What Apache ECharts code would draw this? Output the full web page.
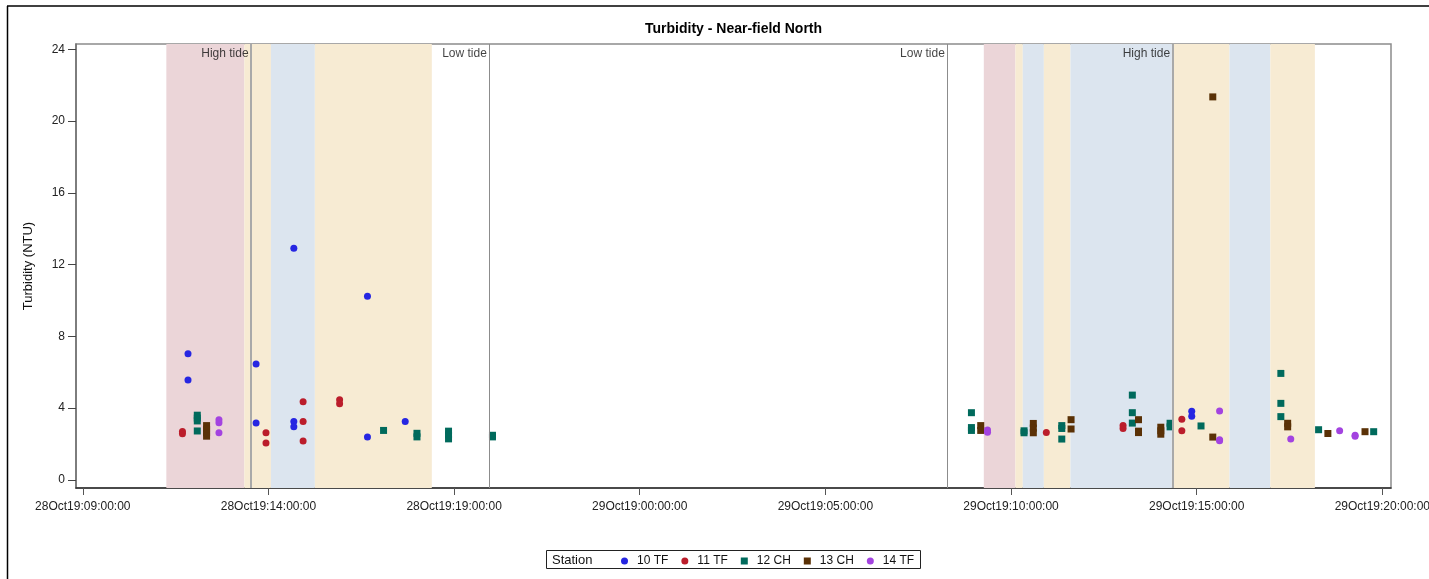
<!DOCTYPE html>
<html>
<head>
<meta charset="utf-8">
<title>Turbidity - Near-field North</title>
<script src="https://cdn.jsdelivr.net/npm/echarts@6/dist/echarts.min.js"></script>
<style>
  html, body { margin: 0; padding: 0; background: #fff; }
  #chart { width: 1429px; height: 579px; }
</style>
</head>
<body>
<div id="chart"></div>
<script>
// Station names and measurements: [sample time, turbidity in NTU]
const stationNames = ['10 TF', '11 TF', '12 CH', '13 CH', '14 TF'];

const st10TF = [
  ['2019-10-28 11:50', 7.03], ['2019-10-28 11:50', 5.56],
  ['2019-10-28 13:40', 6.45], ['2019-10-28 13:40', 3.16],
  ['2019-10-28 14:41', 12.91], ['2019-10-28 14:41', 3.25], ['2019-10-28 14:41', 2.96],
  ['2019-10-28 16:40', 10.23], ['2019-10-28 16:40', 2.38],
  ['2019-10-28 17:41', 3.25],
  ['2019-10-29 14:52', 3.82], ['2019-10-29 14:52', 3.54]
];
const st11TF = [
  ['2019-10-28 11:41', 2.69], ['2019-10-28 11:41', 2.56],
  ['2019-10-28 13:56', 2.62], ['2019-10-28 13:56', 2.05],
  ['2019-10-28 14:56', 4.35], ['2019-10-28 14:56', 3.25], ['2019-10-28 14:56', 2.16],
  ['2019-10-28 15:55', 4.46], ['2019-10-28 15:55', 4.24],
  ['2019-10-29 10:57', 2.64],
  ['2019-10-29 13:01', 3.02], ['2019-10-29 13:01', 2.86],
  ['2019-10-29 14:36', 3.37], ['2019-10-29 14:36', 2.73]
];
const st12CH = [
  ['2019-10-28 12:05', 3.60], ['2019-10-28 12:05', 3.44], ['2019-10-28 12:05', 3.28], ['2019-10-28 12:05', 2.72],
  ['2019-10-28 17:06', 2.75],
  ['2019-10-28 18:00', 2.59], ['2019-10-28 18:00', 2.39],
  ['2019-10-28 18:51', 2.71], ['2019-10-28 18:51', 2.50], ['2019-10-28 18:51', 2.28],
  ['2019-10-28 20:02', 2.48], ['2019-10-28 20:02', 2.39],
  ['2019-10-29 08:56', 3.74], ['2019-10-29 08:56', 2.91], ['2019-10-29 08:56', 2.75],
  ['2019-10-29 10:21', 2.73], ['2019-10-29 10:21', 2.62],
  ['2019-10-29 11:22', 3.02], ['2019-10-29 11:22', 2.86], ['2019-10-29 11:22', 2.27],
  ['2019-10-29 13:16', 4.72], ['2019-10-29 13:16', 3.74], ['2019-10-29 13:16', 3.16],
  ['2019-10-29 14:17', 3.15], ['2019-10-29 14:17', 2.95],
  ['2019-10-29 15:07', 3.00],
  ['2019-10-29 17:16', 5.93], ['2019-10-29 17:16', 4.26], ['2019-10-29 17:16', 3.52],
  ['2019-10-29 18:17', 2.79],
  ['2019-10-29 19:46', 2.68]
];
const st13CH = [
  ['2019-10-28 12:20', 3.02], ['2019-10-28 12:20', 2.82], ['2019-10-28 12:20', 2.62], ['2019-10-28 12:20', 2.43],
  ['2019-10-29 09:11', 3.02], ['2019-10-29 09:11', 2.75],
  ['2019-10-29 10:36', 3.14], ['2019-10-29 10:36', 2.88], ['2019-10-29 10:36', 2.62],
  ['2019-10-29 11:37', 3.35], ['2019-10-29 11:37', 2.83],
  ['2019-10-29 13:26', 3.35], ['2019-10-29 13:26', 2.71], ['2019-10-29 13:26', 2.63],
  ['2019-10-29 14:02', 2.93], ['2019-10-29 14:02', 2.73], ['2019-10-29 14:02', 2.54],
  ['2019-10-29 15:26', 21.35], ['2019-10-29 15:26', 2.38],
  ['2019-10-29 17:27', 3.15], ['2019-10-29 17:27', 2.95],
  ['2019-10-29 18:32', 2.58],
  ['2019-10-29 19:32', 2.68]
];
const st14TF = [
  ['2019-10-28 12:40', 3.35], ['2019-10-28 12:40', 3.18], ['2019-10-28 12:40', 2.62],
  ['2019-10-29 09:22', 2.78], ['2019-10-29 09:22', 2.65],
  ['2019-10-29 15:37', 3.83], ['2019-10-29 15:37', 2.23], ['2019-10-29 15:37', 2.18],
  ['2019-10-29 17:32', 2.27],
  ['2019-10-29 18:51', 2.73],
  ['2019-10-29 19:16', 2.48], ['2019-10-29 19:16', 2.43]
];

// Tidal phase periods shaded behind the points: [start, end, phase]
const tidePhases = [
  ['2019-10-28 11:15', '2019-10-28 13:21', 'flood'],
  ['2019-10-28 13:21', '2019-10-28 14:04', 'slack'],
  ['2019-10-28 14:04', '2019-10-28 15:15', 'ebb'],
  ['2019-10-28 15:15', '2019-10-28 18:24', 'slack'],
  ['2019-10-29 09:16', '2019-10-29 10:07', 'flood'],
  ['2019-10-29 10:07', '2019-10-29 10:19', 'slack'],
  ['2019-10-29 10:19', '2019-10-29 10:53', 'ebb'],
  ['2019-10-29 10:53', '2019-10-29 11:36', 'slack'],
  ['2019-10-29 11:36', '2019-10-29 14:20', 'ebb'],
  ['2019-10-29 14:20', '2019-10-29 15:53', 'slack'],
  ['2019-10-29 15:53', '2019-10-29 16:59', 'ebb'],
  ['2019-10-29 16:59', '2019-10-29 18:11', 'slack']
];

// High / low tide reference times
const tideEvents = [
  ['2019-10-28 13:32', 'High tide'],
  ['2019-10-28 19:57', 'Low tide'],
  ['2019-10-29 08:17', 'Low tide'],
  ['2019-10-29 14:21', 'High tide']
];

// Axis settings
const xTicks = [
  '2019-10-28 09:00', '2019-10-28 14:00', '2019-10-28 19:00', '2019-10-29 00:00',
  '2019-10-29 05:00', '2019-10-29 10:00', '2019-10-29 15:00', '2019-10-29 20:00'
];
const xRange = ['2019-10-28 08:49', '2019-10-29 20:14'];
const yTicks = [0, 4, 8, 12, 16, 20, 24];
const yRange = [-0.46, 24.3];

const toMs = s => new Date(s.replace(' ', 'T') + ':00').getTime();
const MONTHS = ['Jan','Feb','Mar','Apr','May','Jun','Jul','Aug','Sep','Oct','Nov','Dec'];
const pad = n => String(n).padStart(2, '0');
function sasDateTime(ms) {
  const d = new Date(ms);
  return pad(d.getDate()) + MONTHS[d.getMonth()] + pad(d.getFullYear() % 100) + ':' +
    pad(d.getHours()) + ':' + pad(d.getMinutes()) + ':' + pad(d.getSeconds());
}

const phaseColors = { flood: '#ebd5d8', slack: '#f7ebd3', ebb: '#dce5ef' };
const SQUARE = 'path://M0,0L10,0L10,10L0,10Z';
const stationStyles = {
  '10 TF': { color: '#2626e2', symbol: 'circle' },
  '11 TF': { color: '#bb1d2b', symbol: 'circle' },
  '12 CH': { color: '#006a5c', symbol: SQUARE },
  '13 CH': { color: '#5a3106', symbol: SQUARE },
  '14 TF': { color: '#a343e0', symbol: 'circle' }
};
const stationData = [st10TF, st11TF, st12CH, st13CH, st14TF];

const FONT = '"Liberation Sans", Arial, sans-serif';

const backgroundSeries = {
  name: 'tide',
  type: 'scatter',
  data: [],
  z: 1,
  silent: true,
  markArea: {
    silent: true,
    label: { show: false },
    data: tidePhases.map(p => [
      { xAxis: toMs(p[0]), itemStyle: { color: phaseColors[p[2]], opacity: 1 } },
      { xAxis: toMs(p[1]) }
    ])
  },
  markLine: {
    silent: true,
    symbol: ['none', 'none'],
    label: { show: false },
    data: tideEvents.map(e => ({
      xAxis: toMs(e[0]),
      lineStyle: e[1] === 'High tide'
        ? { color: '#a9a9a9', width: 2, type: 'solid' }
        : { color: '#8c8c8c', width: 1, type: 'solid' }
    }))
  }
};

const tideLabelSeries = {
  name: 'tideLabels',
  type: 'scatter',
  z: 2,
  silent: true,
  symbolSize: 1,
  itemStyle: { color: 'rgba(0,0,0,0)' },
  data: tideEvents.map(e => ({ name: e[1], value: [toMs(e[0]), 23.77] })),
  label: {
    show: true,
    position: 'left',
    distance: 2,
    formatter: p => p.name,
    color: '#111',
    fontSize: 12,
    fontFamily: FONT
  }
};

const pointSeries = stationNames.map((name, i) => ({
  name: name,
  type: 'scatter',
  z: 3,
  symbol: stationStyles[name].symbol,
  symbolSize: 7,
  itemStyle: { color: stationStyles[name].color, opacity: 1 },
  data: stationData[i].map(d => [toMs(d[0]), d[1]])
}));

const chart = echarts.init(document.getElementById('chart'), null, { renderer: 'canvas' });
chart.setOption({
  animation: false,
  backgroundColor: '#fff',
  title: {
    text: 'Turbidity - Near-field North',
    left: 640,
    top: 17,
    textStyle: { fontSize: 14, fontWeight: 'bold', color: '#000', fontFamily: FONT }
  },
  grid: {
    left: 76, right: 38, top: 44, bottom: 91,
    outerBoundsMode: 'none',
    containLabel: false,
    show: true,
    borderColor: '#8c8c8c',
    borderWidth: 1.5,
    backgroundColor: 'transparent'
  },
  legend: {
    data: stationNames.map(n => ({ name: n, icon: stationStyles[n].symbol })),
    left: 621,
    top: 555,
    padding: 0,
    itemWidth: 7,
    itemHeight: 7,
    itemGap: 13,
    symbolKeepAspect: true,
    textStyle: { fontSize: 12, color: '#111', fontFamily: FONT, padding: [0, 0, 0, 4] },
    selectedMode: false
  },
  xAxis: {
    // sample times in epoch milliseconds
    type: 'value',
    min: toMs(xRange[0]),
    max: toMs(xRange[1]),
    splitLine: { show: false },
    axisLine: { show: true, onZero: false, lineStyle: { color: '#2b2b2b', width: 1.5 } },
    axisTick: { show: true, length: 7, customValues: xTicks.map(toMs), lineStyle: { color: '#555' } },
    axisLabel: {
      customValues: xTicks.map(toMs),
      formatter: v => sasDateTime(v),
      margin: 13,
      fontSize: 12,
      color: '#222',
      fontFamily: FONT,
      hideOverlap: false
    }
  },
  yAxis: {
    type: 'value',
    min: yRange[0],
    max: yRange[1],
    name: 'Turbidity (NTU)',
    nameLocation: 'middle',
    nameGap: 41,
    nameTextStyle: { fontSize: 13, color: '#111', fontFamily: FONT },
    splitLine: { show: false },
    axisLine: { show: true, lineStyle: { color: '#6f6f6f', width: 1.5 } },
    axisTick: { show: true, length: 8, customValues: yTicks, lineStyle: { color: '#444' } },
    axisLabel: {
      customValues: yTicks,
      margin: 11,
      fontSize: 12,
      color: '#222',
      fontFamily: FONT
    }
  },
  graphic: [
    // outer frame edges
    { type: 'line', shape: { x1: 7, y1: 6, x2: 1429, y2: 6 }, style: { stroke: '#000', lineWidth: 1.5 }, silent: true },
    { type: 'line', shape: { x1: 7.5, y1: 6, x2: 7.5, y2: 579 }, style: { stroke: '#000', lineWidth: 1.5 }, silent: true },
    // legend frame and heading
    { type: 'rect', shape: { x: 546.5, y: 550.5, width: 374, height: 18 }, style: { fill: 'none', stroke: '#222', lineWidth: 1 }, silent: true, z: 10 },
    { type: 'text', x: 552, y: 560, style: { text: 'Station', fill: '#111', font: '13px "Liberation Sans", Arial, sans-serif', verticalAlign: 'middle' }, silent: true, z: 10 }
  ],
  series: [backgroundSeries, tideLabelSeries].concat(pointSeries)
});
</script>
</body>
</html>
